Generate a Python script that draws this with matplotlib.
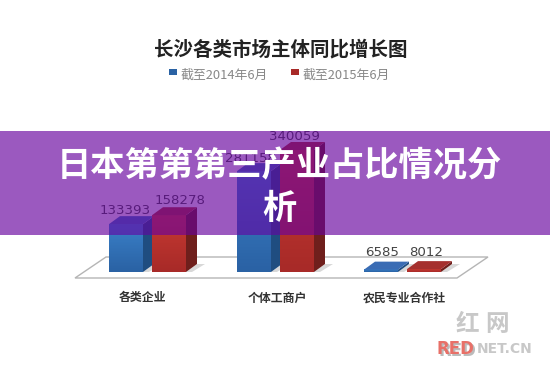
import matplotlib
matplotlib.use("Agg")
import matplotlib.pyplot as plt
import numpy as np
from matplotlib.colors import LinearSegmentedColormap
from matplotlib.patches import Polygon, Rectangle

plt.rcParams["font.family"] = ["Noto Sans CJK SC", "DejaVu Sans"]

title = "长沙各类市场主体同比增长图"
banner = "日本第第第三产业占比情况分\n析"
series_names = ["截至2014年6月", "截至2015年6月"]
categories = ["各类企业", "个体工商户", "农民专业合作社"]
values_2014 = [133393, 281158, 6585]
values_2015 = [158278, 340059, 8012]

front_light = ["#3a80c8", "#c63a32"]
front_dark = ["#2a62a4", "#a82a28"]
top_colors = ["#3a6cb4", "#a5302e"]
side_colors = ["#1f4d80", "#6f1f1c"]

fig = plt.figure(figsize=(5.5, 3.66), dpi=100)
ax = fig.add_axes([0, 0, 1, 1])
ax.set_xlim(0, 550)
ax.set_ylim(366, 0)
ax.set_autoscale_on(False)
ax.axis("off")

px_per_unit = 122 / 340059
base_y = 272
group_x = [109, 237, 364]
bar_w = 34
gap = 9
dx, dy = 11, 8


def bar3d(x, value, i):
    h = value * px_per_unit
    top = base_y - h
    # little shadow on the floor
    ax.add_patch(Polygon([(x + bar_w, base_y), (x + bar_w + dx, base_y - dy),
                          (x + bar_w + dx + 8, base_y - dy), (x + bar_w + 6, base_y)],
                         fc="#d8d8d8", ec="none", zorder=2))
    cmap = LinearSegmentedColormap.from_list("f", [front_light[i], front_dark[i]])
    ax.imshow(np.linspace(0, 1, 32).reshape(-1, 1), cmap=cmap, aspect="auto",
              extent=(x, x + bar_w, base_y, top), zorder=3)
    ax.add_patch(Polygon([(x + bar_w, top), (x + bar_w + dx, top - dy),
                          (x + bar_w + dx, base_y - dy), (x + bar_w, base_y)],
                         fc=side_colors[i], ec="none", zorder=3))
    ax.add_patch(Polygon([(x, top), (x + dx, top - dy), (x + bar_w + dx, top - dy), (x + bar_w, top)],
                         fc=top_colors[i], ec="none", zorder=3))


# lower layer of the banner, the bars sit on it
ax.add_patch(Rectangle((0, 131), 550, 104, fc=(235 / 255, 222 / 255, 235 / 255), ec="none", zorder=0.5))

# floor
ax.add_patch(Polygon([(75, 278), (106, 257), (488, 257), (457, 278)],
                     fc="white", ec="#b5b5b5", lw=1, zorder=1))

for g, x in enumerate(group_x):
    bar3d(x, values_2014[g], 0)
    bar3d(x + bar_w + gap, values_2015[g], 1)

label_pos = [(125, 210), (250, 158), (382, 253)]
label_pos2 = [(180, 201), (295, 137), (426, 253)]
for g in range(3):
    ax.text(*label_pos[g], str(values_2014[g]), fontsize=9.6, color="#444444",
            ha="center", va="center", family="DejaVu Sans", zorder=4)
    ax.text(*label_pos2[g], str(values_2015[g]), fontsize=9.6, color="#444444",
            ha="center", va="center", family="DejaVu Sans", zorder=4)

cat_x = [142, 277, 404]
for g, name in enumerate(categories):
    ax.text(cat_x[g], 298, name, fontsize=8.6, fontweight="bold", color="#333333",
            ha="center", va="center")

ax.text(281, 50, title, fontsize=14, fontweight="bold", color="#222222",
        ha="center", va="center")

ax.add_patch(Rectangle((169, 69), 8, 6, fc=front_dark[0], ec="none"))
ax.add_patch(Rectangle((291, 69), 8, 6, fc=front_dark[1], ec="none"))
ax.text(181, 75, series_names[0], fontsize=9.3, color="#888888", va="center")
ax.text(303, 75, series_names[1], fontsize=9.3, color="#888888", va="center")

# watermark
ax.text(467, 324, "红", fontsize=17, color="#c8c8c8", ha="center", va="center", fontweight="bold")
ax.text(497, 324, "网", fontsize=17, color="#c8c8c8", ha="center", va="center", fontweight="bold")
ax.text(439, 351, "RED", fontsize=12, color="#bbbbbb", ha="left", va="center",
        fontweight="bold", family="DejaVu Sans")
ax.text(437, 349, "RED", fontsize=12, color="#e87068", ha="left", va="center",
        fontweight="bold", family="DejaVu Sans")
ax.text(477, 349, "NET.CN", fontsize=10, color="#c8c8c8", ha="left", va="center",
        fontweight="bold", family="DejaVu Sans")

# purple banner over the chart
ax.add_patch(Rectangle((0, 131), 550, 104, fc=(102 / 255, 0, 162 / 255), ec="none", alpha=0.6, zorder=5))
ax.text(279, 187, banner, fontsize=24.7, fontweight="bold", color="white", ha="center",
        va="center", linespacing=1.25, zorder=6)

fig.savefig("out.png", dpi=100)
